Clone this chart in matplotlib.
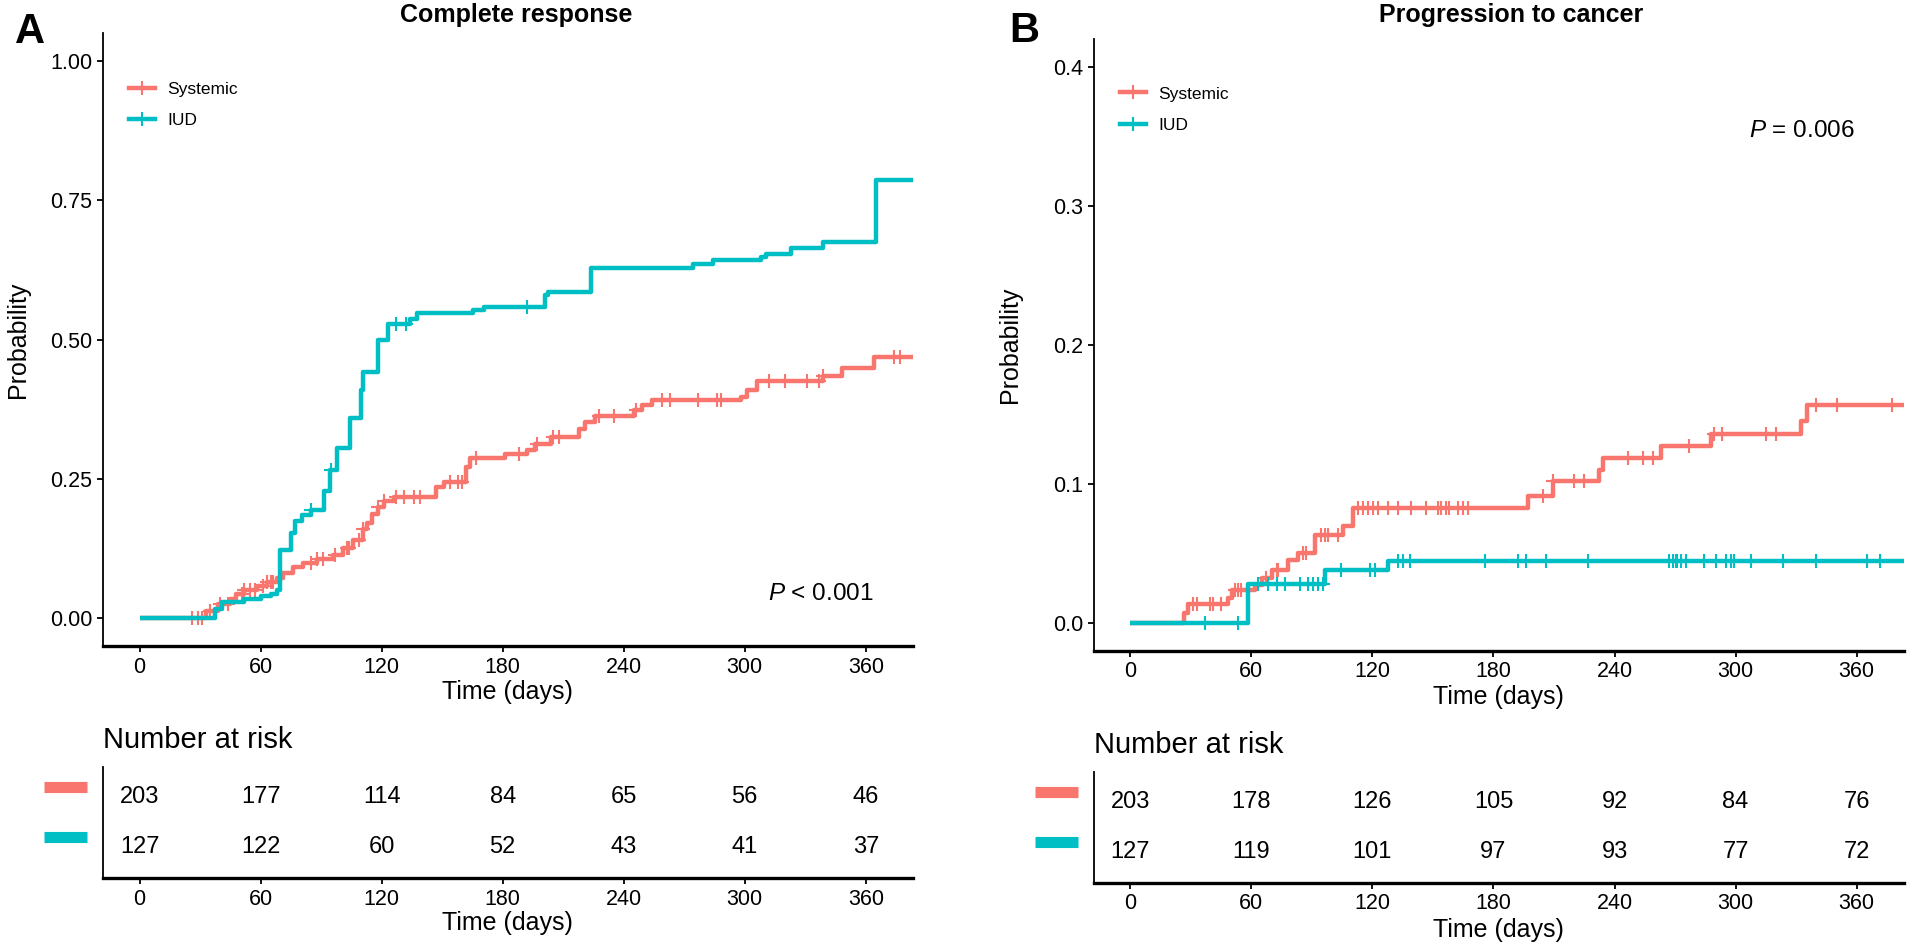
import numpy as np
import matplotlib
matplotlib.use('Agg')
import matplotlib.pyplot as plt
from matplotlib.lines import Line2D

plt.rcParams['font.family'] = ['Liberation Sans', 'DejaVu Sans']
plt.rcParams['mathtext.fontset'] = 'custom'
plt.rcParams['mathtext.it'] = 'Liberation Sans:italic'
plt.rcParams['mathtext.rm'] = 'Liberation Sans'

RED = '#F8766D'
TEAL = '#00BFC4'

groups = ['Systemic', 'IUD']
time_ticks = [0, 60, 120, 180, 240, 300, 360]

# --- A: complete response (cumulative incidence) ---
cr_sys_t = [33, 39, 45, 48, 52, 58, 63, 68, 71, 76, 81, 88, 96, 101, 106, 111, 113,
            115, 118, 121, 126, 147, 151, 162, 164, 181, 192, 196, 204, 218, 221,
            226, 245, 249, 254, 298, 301, 306, 339, 348, 364]
cr_sys_p = [0.013, 0.025, 0.034, 0.044, 0.051, 0.058, 0.065, 0.072, 0.082, 0.092,
            0.100, 0.106, 0.113, 0.127, 0.140, 0.161, 0.171, 0.188, 0.200, 0.210,
            0.217, 0.236, 0.245, 0.271, 0.288, 0.295, 0.302, 0.312, 0.326, 0.339,
            0.353, 0.363, 0.374, 0.382, 0.391, 0.398, 0.409, 0.425, 0.435, 0.449,
            0.468]
cr_sys_cens = [26, 29, 31, 35, 40, 44, 51, 52, 55, 57, 61, 63, 65, 66, 85, 88, 91,
               97, 103, 104, 109, 111, 118, 121, 127, 131, 136, 139, 154, 158, 160,
               167, 188, 197, 205, 208, 228, 235, 246, 259, 263, 277, 286, 288, 312,
               320, 331, 337, 339, 374, 377]

cr_iud_t = [37.6, 41, 52, 60, 65, 68, 69.4, 75, 77, 80.4, 85, 91.2, 94.5, 97.8,
            104.3, 109.9, 111, 118.2, 123.3, 134, 137.3, 165.3, 171, 200.8, 202.4,
            223.9, 274.2, 284.1, 308, 310.6, 322.9, 338.6, 365]
cr_iud_p = [0.017, 0.029, 0.034, 0.041, 0.044, 0.051, 0.123, 0.154, 0.174, 0.185,
            0.195, 0.229, 0.267, 0.305, 0.360, 0.410, 0.442, 0.500, 0.528, 0.537,
            0.547, 0.554, 0.559, 0.580, 0.585, 0.628, 0.635, 0.643, 0.648, 0.654,
            0.665, 0.676, 0.786]
cr_iud_cens = [85, 95, 127, 132, 192]

cr_risk_sys = [203, 177, 114, 84, 65, 56, 46]
cr_risk_iud = [127, 122, 60, 52, 43, 41, 37]

# --- B: progression to cancer ---
pc_sys_t = [26.8, 28.8, 48.5, 50.2, 61.8, 65.1, 70, 78.2, 83.2, 91.4, 105.5, 110.4,
            197, 209.4, 232.5, 234.1, 263, 287.7, 332.3, 335.5]
pc_sys_p = [0.0072, 0.0137, 0.018, 0.024, 0.027, 0.032, 0.038, 0.045, 0.0504,
            0.0635, 0.0695, 0.0827, 0.0916, 0.102, 0.110, 0.1187, 0.1276, 0.1362,
            0.1455, 0.157]
pc_sys_cens = [31, 33, 39.5, 41, 45, 52, 53.5, 55, 57.6, 67.5, 72.5, 73.3, 85.7, 87.3,
               94.7, 96.4, 98, 103, 113, 115.4, 117.8, 120.3, 122.8, 127.7, 132.7,
               139.3, 146.7, 152.5, 154.1, 156.6, 158.2, 162.4, 164.8, 167.3, 204.4,
               209.4, 220, 225, 246.5, 254, 259, 277, 289.4, 293.5, 315, 320, 339.7,
               350.4, 377.6]

pc_iud_t = [58.5, 96.4, 127.7]
pc_iud_p = [0.0283, 0.0383, 0.0448]
pc_iud_cens = [37, 53.5, 63.4, 68.4, 72.5, 76.6, 84, 88.1, 90.6, 93.1, 95.6, 104.6,
               118.7, 121.1, 132.7, 135.1, 138.4, 175.6, 192.1, 196.2, 206.1, 226.7,
               267.1, 268.8, 270.4, 271.2, 272.9, 275.4, 284.5, 290.2, 295.2, 297.7,
               299.3, 307.6, 323.3, 339.7, 365.2, 371.8]

pc_risk_sys = [203, 178, 126, 105, 92, 84, 76]
pc_risk_iud = [127, 119, 101, 97, 93, 77, 72]

XLIM = (-18.25, 383.25)
END = 400

W, H = 1920, 947
fig = plt.figure(figsize=(W / 100, H / 100), dpi=100)


def box(left, top, right, bottom):
    return [left / W, 1 - bottom / H, (right - left) / W, (bottom - top) / H]


def style_axes(ax):
    for s in ['top', 'right']:
        ax.spines[s].set_visible(False)
    ax.spines['left'].set_linewidth(1.3)
    ax.spines['bottom'].set_linewidth(2.4)
    ax.tick_params(labelsize=15.5, length=4.5, width=1.3, pad=3, colors='black')
    ax.set_xlim(*XLIM)
    ax.set_xticks(time_ticks)


def draw_curve(ax, t, p, cens, color):
    x = [0] + list(t) + [END]
    y = [0] + list(p) + [p[-1]]
    ax.plot(x, y, drawstyle='steps-post', color=color, lw=3.2, solid_capstyle='butt')
    yy = np.array([0] + list(p))
    cy = yy[np.searchsorted(t, cens, side='right')]
    ax.plot(cens, cy, ls='none', marker='+', ms=10, mew=1.5, color=color)


def panel(pos, tpos, letter, letter_xy, title, title_xy, curves, ylim, yticks, yfmt,
          pval, pxy, leg_xy, risk, ylab_x, xlab_y, tab_xlab_y, nar_y):
    ax = fig.add_axes(box(*pos))
    style_axes(ax)
    for t, p, c, col in curves:
        draw_curve(ax, t, p, c, col)
    ax.set_ylim(*ylim)
    ax.set_yticks(yticks)
    ax.set_yticklabels([yfmt.format(v) for v in yticks])
    ax.set_xlabel('Time (days)', fontsize=18, va='center')
    ax.xaxis.set_label_coords(0.5, xlab_y)
    ax.set_ylabel('Probability', fontsize=18, va='center')
    ax.yaxis.set_label_coords(ylab_x, 0.5)
    ax.text(pxy[0], pxy[1], pval, fontsize=17.5, ha='left', va='center')
    handles = [Line2D([], [], color=col, lw=3.2, marker='+', ms=10, mew=1.5)
               for col in [RED, TEAL]]
    ax.legend(handles, groups, loc='upper left', bbox_to_anchor=leg_xy, frameon=False,
              fontsize=12.5, handlelength=1.5, handletextpad=0.7, labelspacing=0.95,
              borderpad=0, borderaxespad=0)
    fig.text(title_xy[0] / W, 1 - title_xy[1] / H, title, fontsize=18,
             fontweight='bold', ha='center', va='center')
    fig.text(letter_xy[0] / W, 1 - letter_xy[1] / H, letter, fontsize=30,
             fontweight='bold', ha='left', va='center')

    # number at risk table
    tb = fig.add_axes(box(*tpos))
    style_axes(tb)
    tb.set_ylim(0.38, 2.6)
    tb.set_yticks([])
    for row, (vals, col) in enumerate(zip(risk, [RED, TEAL])):
        yv = 2 - row
        for tt, v in zip(time_ticks, vals):
            tb.text(tt, yv, str(v), fontsize=17, ha='center', va='center')
        tb.plot([-0.072, -0.019], [yv + 0.2, yv + 0.2], color=col, lw=8,
                solid_capstyle='butt', transform=tb.get_yaxis_transform(),
                clip_on=False)
    tb.set_xlabel('Time (days)', fontsize=18, va='center')
    tb.xaxis.set_label_coords(0.5, tab_xlab_y)
    tb.text(0, nar_y, 'Number at risk', fontsize=21, ha='left', va='center',
            transform=tb.transAxes)


panel((102.7, 33, 912.7, 646.3), (102.7, 767.3, 912.7, 878.3), 'A', (15, 32),
      'Complete response', (516, 15),
      [(cr_sys_t, cr_sys_p, cr_sys_cens, RED), (cr_iud_t, cr_iud_p, cr_iud_cens, TEAL)],
      (-0.05, 1.05), [0, 0.25, 0.5, 0.75, 1.0], '{:.2f}',
      '$\\it{P}$ < 0.001', (311.7, 0.044), (0.0325, 0.921),
      [cr_risk_sys, cr_risk_iud], -0.104, -0.074, -0.403, 1.246)

panel((1093.5, 39.3, 1903.5, 650.7), (1093.5, 771.7, 1903.5, 882.7), 'B', (1009, 31),
      'Progression to cancer', (1511, 15),
      [(pc_sys_t, pc_sys_p, pc_sys_cens, RED), (pc_iud_t, pc_iud_p, pc_iud_cens, TEAL)],
      (-0.02, 0.42), [0, 0.1, 0.2, 0.3, 0.4], '{:.1f}',
      '$\\it{P}$ = 0.006', (306.7, 0.3537), (0.033, 0.923),
      [pc_risk_sys, pc_risk_iud], -0.1025, -0.0752, -0.426, 1.24)

fig.savefig('out.png', dpi=100, facecolor='white')
